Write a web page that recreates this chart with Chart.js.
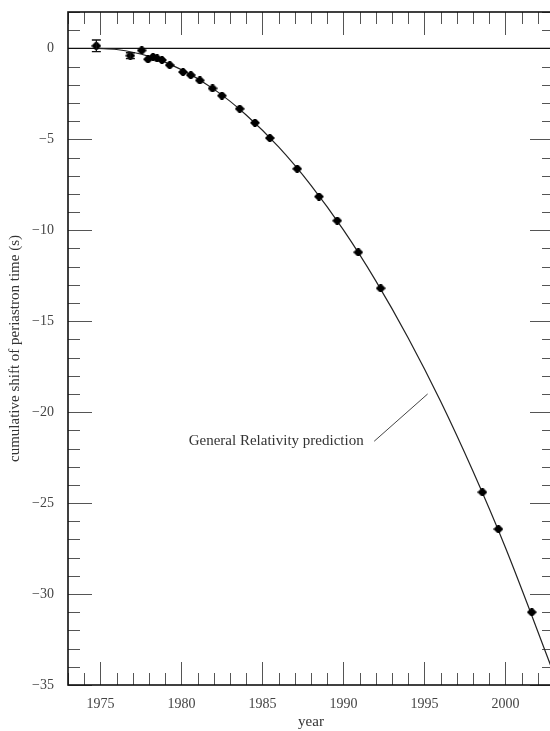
<!DOCTYPE html>
<html>
<head>
<meta charset="utf-8">
<script src="https://cdn.jsdelivr.net/npm/chart.js@4/dist/chart.umd.min.js"></script>
<style>
  html, body { margin: 0; padding: 0; background: #fff; overflow: hidden; }
  #wrap { width: 560px; height: 731px; position: relative; }
</style>
</head>
<body>
<div id="wrap"><canvas id="shiftChart"></canvas></div>
<script>
// measured periastron shifts (year, seconds)
const obsYears = [1974.75, 1976.85, 1977.55, 1977.94, 1978.25, 1978.5, 1978.8, 1979.28,
  1980.1, 1980.58, 1981.14, 1981.92, 1982.5, 1983.6, 1984.54, 1985.46, 1987.15,
  1988.49, 1989.62, 1990.92, 1992.3, 1998.58, 1999.57, 2001.63];
const obsShift = [0.14, -0.4, -0.11, -0.6, -0.47, -0.55, -0.64, -0.92,
  -1.3, -1.47, -1.76, -2.2, -2.6, -3.32, -4.09, -4.93, -6.62,
  -8.15, -9.47, -11.21, -13.19, -24.4, -26.43, -31.0];
const obsError = [0.32, 0.16, 0, 0, 0, 0, 0, 0,
  0, 0, 0, 0, 0, 0, 0, 0, 0,
  0, 0, 0, 0, 0, 0, 0];

// general relativity prediction curve
const grYears = [1974.8, 1976, 1978, 1980, 1982, 1984, 1986, 1988, 1990, 1992,
  1994, 1996, 1998, 2000, 2003];
const grShift = [0, -0.06, -0.44, -1.17, -2.24, -3.66, -5.42, -7.53, -9.98, -12.78,
  -15.92, -19.4, -23.25, -27.44, -34.4];

const xTickLabels = [1975, 1980, 1985, 1990, 1995, 2000];
const yTickLabels = [0, -5, -10, -15, -20, -25, -30, -35];

const noteText = "General Relativity prediction";
const noteAt = [1980.45, -21.6];
const notePointer = [[1991.9, -21.6], [1995.2, -19.0]];

const serif = "'Liberation Serif', 'Times New Roman', serif";

// flattened diamond used as the point marker
const marker = document.createElement("canvas");
marker.width = 10;
marker.height = 8;
(() => {
  const m = marker.getContext("2d");
  m.fillStyle = "#000";
  m.beginPath();
  m.moveTo(0, 4);
  m.lineTo(3, 1); m.lineTo(7, 1);
  m.lineTo(10, 4);
  m.lineTo(7, 7); m.lineTo(3, 7);
  m.closePath();
  m.fill();
  m.fillRect(3.5, 0, 3, 8);
})();

// box, inward ticks on all four sides and the zero line
const frameAndTicks = {
  id: "frameAndTicks",
  beforeDatasetsDraw(chart) {
    const { ctx, chartArea: a, scales: { x, y } } = chart;
    ctx.save();
    ctx.strokeStyle = "#555";
    ctx.lineWidth = 1;
    ctx.beginPath();
    for (let yr = Math.ceil(x.min); yr <= Math.floor(x.max); yr++) {
      const px = Math.round(x.getPixelForValue(yr)) + 0.5;
      const len = yr % 5 === 0 ? 23 : 12;
      ctx.moveTo(px, a.bottom); ctx.lineTo(px, a.bottom - len);
      ctx.moveTo(px, a.top); ctx.lineTo(px, a.top + len);
    }
    for (let v = Math.ceil(y.min); v <= Math.floor(y.max); v++) {
      const py = Math.round(y.getPixelForValue(v)) + 0.5;
      const len = v % 5 === 0 ? 24 : 12;
      ctx.moveTo(a.left, py); ctx.lineTo(a.left + len, py);
      ctx.moveTo(a.right, py); ctx.lineTo(a.right - len, py);
    }
    ctx.stroke();

    ctx.strokeStyle = "#111";
    ctx.lineWidth = 1.4;
    const y0 = y.getPixelForValue(0);
    ctx.beginPath();
    ctx.moveTo(a.left, y0); ctx.lineTo(a.right, y0);
    ctx.stroke();

    ctx.lineWidth = 1.6;
    ctx.strokeRect(a.left, a.top, a.right - a.left, a.bottom - a.top);
    ctx.restore();
  },
  afterDatasetsDraw(chart) {
    const { ctx, scales: { x, y } } = chart;
    ctx.save();
    // error bars
    ctx.strokeStyle = "#111";
    ctx.lineWidth = 1.3;
    obsYears.forEach((yr, i) => {
      const e = obsError[i];
      if (!e) return;
      const px = x.getPixelForValue(yr);
      const hi = y.getPixelForValue(obsShift[i] + e);
      const lo = y.getPixelForValue(obsShift[i] - e);
      ctx.beginPath();
      ctx.moveTo(px, hi); ctx.lineTo(px, lo);
      ctx.moveTo(px - 4.5, hi); ctx.lineTo(px + 4.5, hi);
      ctx.moveTo(px - 4.5, lo); ctx.lineTo(px + 4.5, lo);
      ctx.stroke();
    });

    // curve label and pointer
    ctx.fillStyle = "#333";
    ctx.font = "15px " + serif;
    ctx.textAlign = "left";
    ctx.textBaseline = "middle";
    ctx.fillText(noteText, x.getPixelForValue(noteAt[0]), y.getPixelForValue(noteAt[1]));
    ctx.strokeStyle = "#444";
    ctx.lineWidth = 1;
    ctx.beginPath();
    ctx.moveTo(x.getPixelForValue(notePointer[0][0]), y.getPixelForValue(notePointer[0][1]));
    ctx.lineTo(x.getPixelForValue(notePointer[1][0]), y.getPixelForValue(notePointer[1][1]));
    ctx.stroke();
    ctx.restore();
  }
};

const ctx = document.getElementById("shiftChart").getContext("2d");
const chart = new Chart(ctx, {
  type: "line",
  data: {
    datasets: [
      {
        label: "observed",
        data: obsYears.map((yr, i) => ({ x: yr, y: obsShift[i] })),
        showLine: false,
        pointStyle: marker,
      },
      {
        label: noteText,
        data: grYears.map((yr, i) => ({ x: yr, y: grShift[i] })),
        borderColor: "#222",
        borderWidth: 1.2,
        pointRadius: 0,
        cubicInterpolationMode: "monotone",
        fill: false,
      },
    ],
  },
  options: {
    responsive: true,
    maintainAspectRatio: false,
    animation: false,
    layout: { padding: { top: 12, right: 6, left: 0, bottom: 0 } },
    plugins: {
      legend: { display: false },
      tooltip: { enabled: false },
    },
    scales: {
      x: {
        type: "linear",
        min: 1973,
        max: 2003,
        afterBuildTicks: (scale) => {
          scale.ticks = xTickLabels.map((v) => ({ value: v }));
        },
        afterFit: (scale) => {
          scale.height = 46;
          scale.paddingLeft = 0;
          scale.paddingRight = 0;
        },
        grid: { display: false, drawTicks: false },
        border: { display: false },
        ticks: {
          callback: (v) => String(v),
          font: { family: serif, size: 14 },
          color: "#444",
          padding: 11,
          maxRotation: 0,
        },
        title: {
          display: true,
          text: "year",
          font: { family: serif, size: 15 },
          color: "#333",
          padding: { top: 0, bottom: 0 },
        },
      },
      y: {
        min: -35,
        max: 2,
        afterBuildTicks: (scale) => {
          scale.ticks = yTickLabels.map((v) => ({ value: v }));
        },
        afterFit: (scale) => {
          scale.width = 68;
          scale.paddingTop = 0;
          scale.paddingBottom = 0;
        },
        grid: { display: false, drawTicks: false },
        border: { display: false },
        ticks: {
          callback: (v) => (v < 0 ? "\u2212" + Math.abs(v) : String(v)),
          font: { family: serif, size: 14 },
          color: "#444",
          padding: 14,
        },
        title: {
          display: true,
          text: "cumulative shift of periastron time (s)",
          font: { family: serif, size: 15 },
          color: "#333",
          padding: { top: 6, bottom: 0 },
        },
      },
    },
  },
  plugins: [frameAndTicks],
});
</script>
</body>
</html>
